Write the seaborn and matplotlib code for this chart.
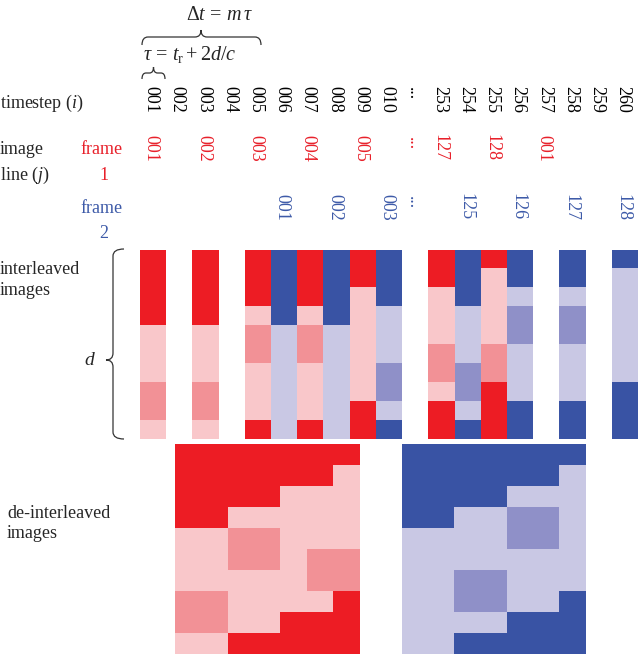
import numpy as np
import matplotlib
matplotlib.use('Agg')
import matplotlib.pyplot as plt
from matplotlib.colors import ListedColormap
from matplotlib.path import Path
from matplotlib.patches import PathPatch
from matplotlib.transforms import blended_transform_factory, offset_copy
import seaborn as sns

sns.set_style('white')
plt.rcParams['font.family'] = ['Liberation Serif', 'DejaVu Serif']
plt.rcParams['mathtext.fontset'] = 'custom'
plt.rcParams['mathtext.rm'] = 'Liberation Serif'
plt.rcParams['mathtext.it'] = 'Liberation Serif:italic'

# ---- data ----
timesteps = ['001', '002', '003', '004', '005', '006', '007', '008', '009', '010',
             '...', '253', '254', '255', '256', '257', '258', '259', '260']

# depth profile of each image line, top -> bottom (1 = light, 2 = mid, 3 = strong)
frame1_lines = ['001', '002', '003', '004', '005', '127', '128']
frame1_steps = ['001', '003', '005', '007', '009', '253', '255']
frame1_depth = [
    [3, 3, 3, 3, 1, 1, 1, 2, 2, 1],
    [3, 3, 3, 3, 1, 1, 1, 2, 2, 1],
    [3, 3, 3, 1, 2, 2, 1, 1, 1, 3],
    [3, 3, 3, 1, 2, 2, 1, 1, 1, 3],
    [3, 3, 1, 1, 1, 1, 1, 1, 3, 3],
    [3, 3, 1, 1, 1, 2, 2, 1, 3, 3],
    [3, 1, 1, 1, 1, 2, 2, 3, 3, 3],
]

frame2_lines = ['001', '002', '003', '125', '126', '127', '128']
frame2_steps = ['006', '008', '010', '254', '256', '258', '260']
frame2_depth = [
    [3, 3, 3, 3, 1, 1, 1, 1, 1, 1],
    [3, 3, 3, 3, 1, 1, 1, 1, 1, 1],
    [3, 3, 3, 1, 1, 1, 2, 2, 1, 3],
    [3, 3, 3, 1, 1, 1, 2, 2, 1, 3],
    [3, 3, 1, 2, 2, 1, 1, 1, 3, 3],
    [3, 3, 1, 2, 2, 1, 1, 1, 3, 3],
    [3, 1, 1, 1, 1, 1, 1, 3, 3, 3],
]

frame1_label_steps = ['001', '003', '005', '007', '009', '...', '253', '255', '257']
frame1_labels = ['001', '002', '003', '004', '005', '...', '127', '128', '001']
frame2_label_steps = ['006', '008', '010', '...', '254', '256', '258', '260']
frame2_labels = ['001', '002', '003', '...', '125', '126', '127', '128']

red_shades = ['#f9c7ca', '#f29196', '#ed1c24']
blue_shades = ['#c9c8e4', '#8f90c8', '#3953a4']
red_text = '#e8202a'
blue_text = '#3d5aa8'

# ---- matrices ----
n_depth = len(frame1_depth[0])
strip = np.full((n_depth, len(timesteps)), np.nan)
for step, col in zip(frame1_steps, frame1_depth):
    strip[:, timesteps.index(step)] = col
for step, col in zip(frame2_steps, frame2_depth):
    strip[:, timesteps.index(step)] = np.array(col) + 3

de1 = np.array(frame1_depth, dtype=float).T
de2 = np.array(frame2_depth, dtype=float).T + 3

cmap = ListedColormap(red_shades + blue_shades)
hm_kw = dict(cmap=cmap, vmin=0.5, vmax=6.5, cbar=False,
             xticklabels=False, yticklabels=False, linewidths=0)

W, H = 638, 654
fig = plt.figure(figsize=(W / 100, H / 100), dpi=100)


def px_axes(x0, y0, x1, y1):
    return fig.add_axes([x0 / W, 1 - y1 / H, (x1 - x0) / W, (y1 - y0) / H])


ax_int = px_axes(140, 249.5, 638, 439)
sns.heatmap(strip, ax=ax_int, **hm_kw)

ax_f1 = px_axes(175, 443.5, 359.5, 654)
sns.heatmap(de1, ax=ax_f1, **hm_kw)

ax_f2 = px_axes(401.5, 443.5, 585.5, 654)
sns.heatmap(de2, ax=ax_f2, **hm_kw)

# overlay in pixel coordinates for text and braces
ov = fig.add_axes([0, 0, 1, 1])
ov.set_xlim(0, W)
ov.set_ylim(H, 0)
ov.axis('off')

col_tf = offset_copy(blended_transform_factory(ax_int.transData, ov.transData),
                     fig=fig, x=-2, y=0, units='dots')
fs = 13

for i, s in enumerate(timesteps):
    y = 94 if s == '...' else 99
    ov.text(i + 0.5, y, s, transform=col_tf, rotation=-90, ha='center',
            va='center', fontsize=fs, color='black')

for step, s in zip(frame1_label_steps, frame1_labels):
    y = 144 if s == '...' else 148
    ov.text(timesteps.index(step) + 0.5, y, s, transform=col_tf, rotation=-90,
            ha='center', va='center', fontsize=fs, color=red_text)

for step, s in zip(frame2_label_steps, frame2_labels):
    y = 203 if s == '...' else 207
    ov.text(timesteps.index(step) + 0.5, y, s, transform=col_tf, rotation=-90,
            ha='center', va='center', fontsize=fs, color=blue_text)

# left-hand labels
ov.text(0, 108, 'timestep ($i$)', fontsize=fs, va='baseline')
ov.text(0, 154, 'image', fontsize=fs, va='baseline')
ov.text(0, 180, 'line ($j$)', fontsize=fs, va='baseline')
ov.text(101, 154, 'frame', fontsize=fs, va='baseline', ha='center', color=red_text)
ov.text(104, 180, '1', fontsize=fs, va='baseline', ha='center', color=red_text)
ov.text(101, 213, 'frame', fontsize=fs, va='baseline', ha='center', color=blue_text)
ov.text(104, 238, '2', fontsize=fs, va='baseline', ha='center', color=blue_text)
ov.text(0, 274, 'interleaved', fontsize=fs, va='baseline')
ov.text(0, 295, 'images', fontsize=fs, va='baseline')
ov.text(90, 365, '$d$', fontsize=fs + 1, va='baseline', ha='center')
ov.text(7, 518, 'de-interleaved', fontsize=fs, va='baseline')
ov.text(7, 538, 'images', fontsize=fs, va='baseline')

ov.text(220, 20, r'$\Delta t\,=\,m\,\tau$', fontsize=14.5, va='baseline', ha='center')
ov.text(143, 60, r'$\tau\,=\,t_\mathrm{r} + 2d/c$', fontsize=14.5, va='baseline')


def brace(u0, u1, ut, vb, vm, vt, r, vertical=False):
    pts = [(u0, vb), (u0, vm), (u0 + r, vm), (ut - r, vm), (ut, vm), (ut, vt),
           (ut, vt), (ut, vm), (ut + r, vm), (u1 - r, vm), (u1, vm), (u1, vb)]
    codes = [Path.MOVETO, Path.CURVE3, Path.CURVE3, Path.LINETO, Path.CURVE3, Path.CURVE3,
             Path.MOVETO, Path.CURVE3, Path.CURVE3, Path.LINETO, Path.CURVE3, Path.CURVE3]
    if vertical:
        pts = [(v, u) for u, v in pts]
    ov.add_patch(PathPatch(Path(pts, codes), fill=False, lw=0.9, edgecolor='#333333'))


brace(142, 261, 201, 45, 37, 30, 6)
brace(142, 165, 153.5, 79, 73, 67, 4)
brace(249, 439, 360, 124, 113, 106, 7, vertical=True)

fig.savefig('out.png', dpi=100)
